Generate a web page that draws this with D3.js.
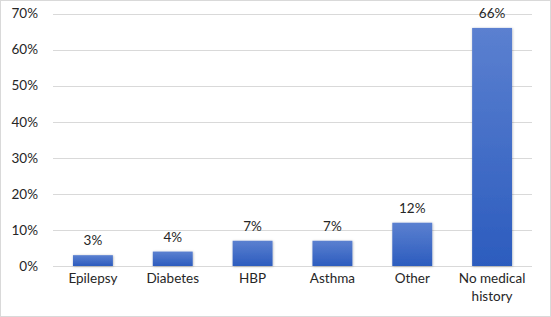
<!DOCTYPE html>
<html><head><meta charset="utf-8">
<script src="https://cdn.jsdelivr.net/npm/d3@7"></script>
<style>body{margin:0;background:#fff}svg{display:block}text{font-family:Lato,"Open Sans",sans-serif;fill:#262626}</style>
</head><body><svg id="c" width="551" height="317"></svg>
<script>
const categories = ["Epilepsy","Diabetes","HBP","Asthma","Other","No medical history"];
const values = [3,4,7,7,12,66];
const yTicks = [0,10,20,30,40,50,60,70];

const svg = d3.select("#c");
const W = 551, H = 317;
const m = {l:53, r:19, t:13.5, b:51};
const FS = 13.5;
svg.append("rect").attr("x",0.5).attr("y",0.5).attr("width",W-1).attr("height",H-1)
  .attr("fill","#fff").attr("stroke","#d9d9d9");

const defs = svg.append("defs");
const g1 = defs.append("linearGradient").attr("id","bg").attr("x1",0).attr("y1",0).attr("x2",0).attr("y2",1);
g1.append("stop").attr("offset","0%").attr("stop-color","#5b80d0");
g1.append("stop").attr("offset","100%").attr("stop-color","#2c5cbe");
const f = defs.append("filter").attr("id","sh").attr("x","-20%").attr("y","-20%").attr("width","140%").attr("height","140%");
f.append("feDropShadow").attr("dx",0.5).attr("dy",0.5).attr("stdDeviation",1).attr("flood-color","#000").attr("flood-opacity",0.3);

const x = d3.scaleBand().domain(categories).range([m.l, W-m.r]).paddingInner(0.5).paddingOuter(0.25);
const y = d3.scaleLinear().domain([0,70]).range([H-m.b, m.t]);

svg.append("g").selectAll("line").data(yTicks).join("line")
  .attr("x1",m.l).attr("x2",W-m.r).attr("y1",d=>Math.round(y(d))+0.5).attr("y2",d=>Math.round(y(d))+0.5)
  .attr("stroke","#d9d9d9").attr("stroke-width",1);

const yAxis = svg.append("g").attr("transform",`translate(${m.l},0)`)
  .call(d3.axisLeft(y).tickValues(yTicks).tickFormat(d=>d+"%").tickSize(0).tickPadding(15));
yAxis.select(".domain").remove();
yAxis.selectAll("text").attr("font-size",FS).attr("font-family","Lato,sans-serif").attr("fill","#262626");

svg.append("g").selectAll("rect").data(values).join("rect")
  .attr("x",(d,i)=>x(categories[i])).attr("width",x.bandwidth())
  .attr("y",d=>y(d)).attr("height",d=>y(0)-y(d))
  .attr("fill","url(#bg)").attr("filter","url(#sh)");

svg.append("g").selectAll("text").data(values).join("text")
  .attr("x",(d,i)=>x(categories[i])+x.bandwidth()/2).attr("y",d=>y(d)-10)
  .attr("text-anchor","middle").attr("font-size",FS).text(d=>d+"%");

const xl = svg.append("g").selectAll("text").data(categories).join("text")
  .attr("text-anchor","middle").attr("font-size",FS)
  .attr("x",d=>x(d)+x.bandwidth()/2).attr("y",y(0)+17);
xl.each(function(d){
  const t = d3.select(this);
  const lines = d==="No medical history" ? ["No medical","history"] : [d];
  lines.forEach((s,k)=>t.append("tspan").attr("x",x(d)+x.bandwidth()/2).attr("dy",k?18:0).text(s));
});
</script></body></html>
